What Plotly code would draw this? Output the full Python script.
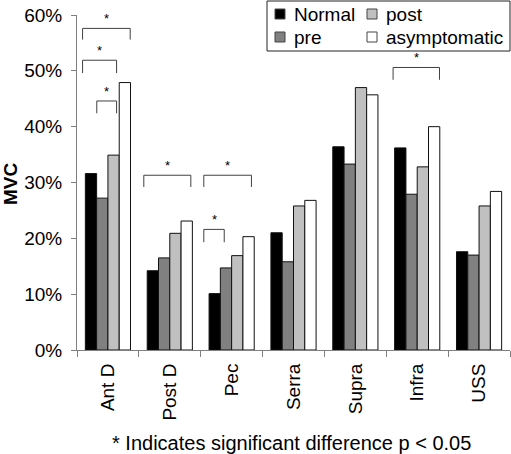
import plotly.graph_objects as go

categories = ["Ant D", "Post D", "Pec", "Serra", "Supra", "Infra", "USS"]
series_names = ["Normal", "pre", "post", "asymptomatic"]
normal = [31.6, 14.2, 10.1, 21.0, 36.4, 36.2, 17.6]
pre = [27.2, 16.5, 14.7, 15.8, 33.3, 27.9, 17.0]
post = [34.9, 20.9, 16.9, 25.8, 47.0, 32.8, 25.8]
asymptomatic = [47.9, 23.1, 20.3, 26.8, 45.7, 40.0, 28.4]
y_ticks = [0, 10, 20, 30, 40, 50, 60]
y_tick_labels = ["0%", "10%", "20%", "30%", "40%", "50%", "60%"]
# significance brackets: (category, left offset, right offset, top %, leg bottom %)
brackets = [
    ("Ant D", -0.41, 0.36, 57.6, 55.6),
    ("Ant D", -0.41, 0.14, 51.9, 49.6),
    ("Ant D", -0.18, 0.14, 44.6, 42.4),
    ("Post D", -0.42, 0.34, 31.3, 29.2),
    ("Pec", -0.45, 0.32, 31.3, 29.2),
    ("Pec", -0.45, -0.12, 21.6, 19.3),
    ("Infra", -0.39, 0.36, 50.6, 48.4),
]
footnote = "* Indicates significant difference p < 0.05"

values = [normal, pre, post, asymptomatic]
fills = ["#000000", "#808080", "#c0c0c0", "#ffffff"]

W, H = 511, 454
ML, MR, MT, MB = 77, 1, 15, 104
PW, PH = W - ML - MR, H - MT - MB


def xp(px):
    return (px - ML) / PW


def yp(py):
    return (H - MB - py) / PH


FONT = "Liberation Sans, Arial, sans-serif"

fig = go.Figure()
for name, vals, col in zip(series_names, values, fills):
    fig.add_trace(go.Bar(
        x=categories, y=vals, name=name,
        marker=dict(color=col, line=dict(color="#111111", width=1)),
        showlegend=False,
    ))

shapes = []
annotations = []
for cat, lo, hi, top, bot in brackets:
    i = categories.index(cat)
    x0, x1 = i + lo, i + hi
    ln = dict(color="#404040", width=1)
    shapes.append(dict(type="line", xref="x", yref="y", x0=x0, x1=x1, y0=top, y1=top, line=ln))
    shapes.append(dict(type="line", xref="x", yref="y", x0=x0, x1=x0, y0=top, y1=bot, line=ln))
    shapes.append(dict(type="line", xref="x", yref="y", x0=x1, x1=x1, y0=top, y1=bot, line=ln))
    annotations.append(dict(x=(x0 + x1) / 2, y=top, xref="x", yref="y", text="*",
                            showarrow=False, yanchor="bottom",
                            font=dict(size=13, family=FONT, color="black")))

# legend (manual, 2 columns)
shapes.append(dict(type="rect", xref="paper", yref="paper", x0=xp(267), x1=xp(510),
                   y0=yp(51), y1=yp(1), line=dict(color="#222222", width=1), fillcolor="white",
                   layer="above"))
legend_pos = [(275, 9), (275, 32), (367, 9), (367, 32)]  # Normal, pre, post, asymptomatic
for name, col, (lx, ly) in zip(series_names, fills, legend_pos):
    shapes.append(dict(type="rect", xref="paper", yref="paper", x0=xp(lx), x1=xp(lx + 10),
                       y0=yp(ly + 10), y1=yp(ly), fillcolor=col,
                       line=dict(color="#444444", width=1), layer="above"))
    annotations.append(dict(x=xp(lx + 17), y=yp(ly + 5), xref="paper", yref="paper",
                            text=name, showarrow=False, xanchor="left", yanchor="middle",
                            font=dict(size=19, family=FONT, color="black")))

annotations.append(dict(x=xp(291), y=yp(443), xref="paper", yref="paper", text=footnote,
                        showarrow=False, xanchor="center", yanchor="middle",
                        font=dict(size=20, family=FONT, color="black")))
annotations.append(dict(x=xp(10), y=yp(184), xref="paper", yref="paper", text="<b>MVC</b>",
                        showarrow=False, textangle=-90, xanchor="center", yanchor="middle",
                        font=dict(size=19, family=FONT, color="black")))

fig.update_layout(
    width=W, height=H,
    margin=dict(l=ML, r=MR, t=MT, b=MB, pad=0),
    paper_bgcolor="white", plot_bgcolor="white",
    barmode="group", bargap=0.27, bargroupgap=0,
    font=dict(family=FONT, size=19, color="black"),
    shapes=shapes, annotations=annotations,
    xaxis=dict(
        range=[-0.5, len(categories) - 0.5], showline=True, linecolor="#808080", linewidth=1,
        ticks="outside", tickson="boundaries", ticklen=6, tickcolor="#808080",
        tickangle=-90, showgrid=False, zeroline=False, ticklabelstandoff=5,
        tickfont=dict(size=19, family=FONT, color="black"),
    ),
    yaxis=dict(
        range=[0, 60], tickmode="array", tickvals=y_ticks, ticktext=y_tick_labels,
        showline=True, linecolor="#808080", ticklabelstandoff=5,
        linewidth=1, ticks="outside", ticklen=5, tickcolor="#808080", showgrid=False,
        zeroline=False, tickfont=dict(size=19, family=FONT, color="black"),
    ),
)

fig.write_html("out.html", config={"displayModeBar": False},
               post_script="document.body.style.margin='0';document.body.style.overflow='hidden';")
